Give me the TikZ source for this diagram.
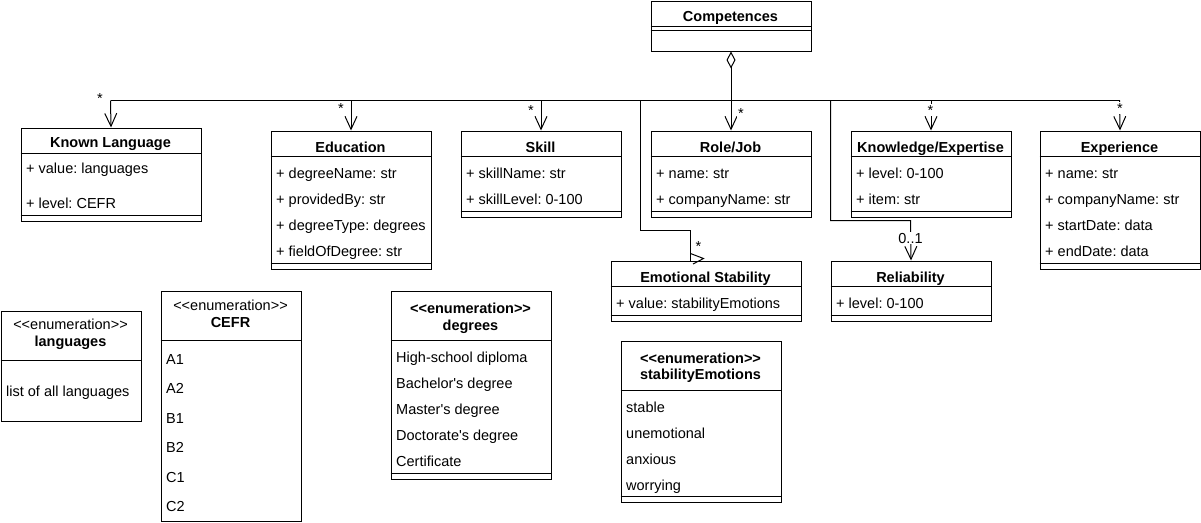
\documentclass[tikz,border=0pt]{standalone}
\usepackage{fontspec}
\setmainfont{Liberation Sans}[Ligatures=TeXOff]
\frenchspacing
\usetikzlibrary{arrows.meta}
\begin{document}
\begin{tikzpicture}[x=1pt,y=-1pt,
  lw/.style={line width=1pt},
  umlbox/.style={draw, line width=1pt, inner sep=0pt, anchor=north west},
  attr/.style={anchor=base west, inner sep=0pt, font=\fontsize{14.5}{17}\selectfont},
  ttl/.style={anchor=base, inner sep=0pt, font=\fontsize{14.5}{17}\selectfont\bfseries},
  stereo/.style={anchor=base, inner sep=0pt, font=\fontsize{14.5}{17}\selectfont},
  mult/.style={anchor=base, inner sep=1pt, fill=white, font=\fontsize{14.5}{17}\selectfont},
  assoc/.style={line width=1pt, -{Straight Barb[length=13pt,width=12pt]}},
]
\useasboundingbox (0,0) rectangle (1201,522);

% ---------- Competences ----------
\node[umlbox, minimum width=160pt, minimum height=49.5pt] (comp) at (650.5,1) {};
\draw[lw] (650.5,26.5) -- (810.5,26.5);
\draw[lw] (650.5,30.5) -- (810.5,30.5);
\node[ttl] (compT) at (730.5,21) {Competences};

% ---------- Known Language ----------
\node[umlbox, minimum width=180pt, minimum height=93pt] (kl) at (20.5,127.5) {};
\draw[lw] (20.5,153.5) -- (200.5,153.5);
\draw[lw] (20.5,215) -- (200.5,215);
\node[ttl] (klT) at (110.5,147.5) {Known Language};
\node[attr] (klA1) at (26,173) {+ value: languages};
\node[attr] (klA2) at (26,208) {+ level: CEFR};

% ---------- Education ----------
\node[umlbox, minimum width=160pt, minimum height=138pt] (edu) at (270.5,130.5) {};
\draw[lw] (270.5,156.5) -- (430.5,156.5);
\draw[lw] (270.5,263) -- (430.5,263);
\node[ttl] (eduT) at (350.5,152) {Education};
\node[attr] (eduA1) at (276,178) {+ degreeName: str};
\node[attr] (eduA2) at (276,204) {+ providedBy: str};
\node[attr] (eduA3) at (276,230) {+ degreeType: degrees};
\node[attr] (eduA4) at (276,256) {+ fieldOfDegree: str};

% ---------- Skill ----------
\node[umlbox, minimum width=160pt, minimum height=86pt] (skill) at (460.5,130.5) {};
\draw[lw] (460.5,156.5) -- (620.5,156.5);
\draw[lw] (460.5,211) -- (620.5,211);
\node[ttl] (skillT) at (540.5,152) {Skill};
\node[attr] (skillA1) at (466,178) {+ skillName: str};
\node[attr] (skillA2) at (466,204) {+ skillLevel: 0-100};

% ---------- Role/Job ----------
\node[umlbox, minimum width=160pt, minimum height=86pt] (role) at (650.5,130.5) {};
\draw[lw] (650.5,156.5) -- (810.5,156.5);
\draw[lw] (650.5,211) -- (810.5,211);
\node[ttl] (roleT) at (730.5,152) {Role/Job};
\node[attr] (roleA1) at (656,178) {+ name: str};
\node[attr] (roleA2) at (656,204) {+ companyName: str};

% ---------- Knowledge/Expertise ----------
\node[umlbox, minimum width=160pt, minimum height=86pt] (know) at (850.5,130.5) {};
\draw[lw] (850.5,156.5) -- (1010.5,156.5);
\draw[lw] (850.5,211) -- (1010.5,211);
\node[ttl] (knowT) at (930.5,152) {Knowledge/Expertise};
\node[attr] (knowA1) at (856,178) {+ level: 0-100};
\node[attr] (knowA2) at (856,204) {+ item: str};

% ---------- Experience ----------
\node[umlbox, minimum width=160pt, minimum height=138pt] (exp) at (1039.5,130.5) {};
\draw[lw] (1039.5,156.5) -- (1199.5,156.5);
\draw[lw] (1039.5,263) -- (1199.5,263);
\node[ttl] (expT) at (1119.5,152) {Experience};
\node[attr] (expA1) at (1045,178) {+ name: str};
\node[attr] (expA2) at (1045,204) {+ companyName: str};
\node[attr] (expA3) at (1045,230) {+ startDate: data};
\node[attr] (expA4) at (1045,256) {+ endDate: data};

% ---------- Emotional Stability ----------
\node[umlbox, minimum width=190pt, minimum height=60pt] (emo) at (610.5,260.5) {};
\draw[lw] (610.5,286.5) -- (800.5,286.5);
\draw[lw] (610.5,315) -- (800.5,315);
\node[ttl] (emoT) at (705.5,282) {Emotional Stability};
\node[attr] (emoA1) at (616,308) {+ value: stabilityEmotions};

% ---------- Reliability ----------
\node[umlbox, minimum width=160pt, minimum height=60pt] (rel) at (830.5,260.5) {};
\draw[lw] (830.5,286.5) -- (990.5,286.5);
\draw[lw] (830.5,315) -- (990.5,315);
\node[ttl] (relT) at (910.5,282) {Reliability};
\node[attr] (relA1) at (836,308) {+ level: 0-100};

% ---------- languages ----------
\node[umlbox, minimum width=140pt, minimum height=110pt] (lang) at (0.5,310.5) {};
\draw[lw] (0.5,360.5) -- (140.5,360.5);
\node[stereo] (langS) at (70.5,329) {<{}<enumeration>{}>};
\node[ttl] (langT) at (70.5,346) {languages};
\node[attr] (langA1) at (6,396) {list of all languages};

% ---------- CEFR ----------
\node[umlbox, minimum width=140pt, minimum height=230pt] (cefr) at (160.5,290.5) {};
\draw[lw] (160.5,340.5) -- (300.5,340.5);
\node[stereo] (cefrS) at (230.5,310.5) {<{}<enumeration>{}>};
\node[ttl] (cefrT) at (230.5,327.5) {CEFR};
\node[attr] (cefrA1) at (166,364) {A1};
\node[attr] (cefrA2) at (166,393.5) {A2};
\node[attr] (cefrB1) at (166,423) {B1};
\node[attr] (cefrB2) at (166,452.5) {B2};
\node[attr] (cefrC1) at (166,482) {C1};
\node[attr] (cefrC2) at (166,511.5) {C2};

% ---------- degrees ----------
\node[umlbox, minimum width=160pt, minimum height=188pt] (deg) at (390.5,290.5) {};
\draw[lw] (390.5,340.5) -- (550.5,340.5);
\draw[lw] (390.5,473) -- (550.5,473);
\node[ttl] (degS) at (470.5,313.5) {<{}<enumeration>{}>};
\node[ttl] (degT) at (470.5,330) {degrees};
\node[attr] (degA1) at (396,362) {High-school diploma};
\node[attr] (degA2) at (396,388) {Bachelor's degree};
\node[attr] (degA3) at (396,414) {Master's degree};
\node[attr] (degA4) at (396,440) {Doctorate's degree};
\node[attr] (degA5) at (396,466) {Certificate};

% ---------- stabilityEmotions ----------
\node[umlbox, minimum width=160pt, minimum height=161pt] (stab) at (620.5,340.5) {};
\draw[lw] (620.5,390.5) -- (780.5,390.5);
\draw[lw] (620.5,496.5) -- (780.5,496.5);
\node[ttl] (stabS) at (700.5,363) {<{}<enumeration>{}>};
\node[ttl] (stabT) at (700.5,379.5) {stabilityEmotions};
\node[attr] (stabA1) at (626,412) {stable};
\node[attr] (stabA2) at (626,438) {unemotional};
\node[attr] (stabA3) at (626,464) {anxious};
\node[attr] (stabA4) at (626,490) {worrying};

% ---------- connectors ----------
\coordinate (busL) at (110.5,100.5);
\coordinate (busR) at (1119.5,100.5);
\coordinate (emoBus) at (640.5,100.5);
\coordinate (emoBend) at (690.5,230.5);
\coordinate (relBus) at (830.5,100.5);
\coordinate (relBend) at (910.5,220.5);

\draw[lw] (busL) -- (busR);
\draw[line width=1pt, {Diamond[open,length=17pt,width=9pt]}-{Straight Barb[length=13pt,width=12pt]}] (comp.south) -- (role.north);
\draw[assoc] (busL) -- (kl.north);
\draw[assoc] (edu.north |- busL) -- (edu.north);
\draw[assoc] (skill.north |- busL) -- (skill.north);
\draw[assoc] (know.north |- busL) -- (know.north);
\draw[assoc] (busR) -- (exp.north);
\draw[lw] (emoBus) |- (emoBend) -- (emoBend |- emo.north);
\coordinate (chevA) at (690.5,253.5);
\coordinate (chevT) at (703.5,258.5);
\coordinate (chevB) at (693,264);
\draw[lw] (chevA) -- (chevT) -- (chevB);
\draw[assoc] (relBus) |- (relBend) -- (rel.north);

% ---------- multiplicities ----------
\node[mult] (mKL) at (100,103) {*};
\node[mult] (mEdu) at (341,113) {*};
\node[mult] (mSkill) at (531,115) {*};
\node[mult] (mRole) at (741,118) {*};
\node[mult] (mKnow) at (930.5,115) {*};
\node[mult] (mExp) at (1120,113) {*};
\node[mult] (mEmo) at (698.5,251) {*};
\node[mult] (mRel) at (910.5,243) {0..1};
\end{tikzpicture}
\end{document}
